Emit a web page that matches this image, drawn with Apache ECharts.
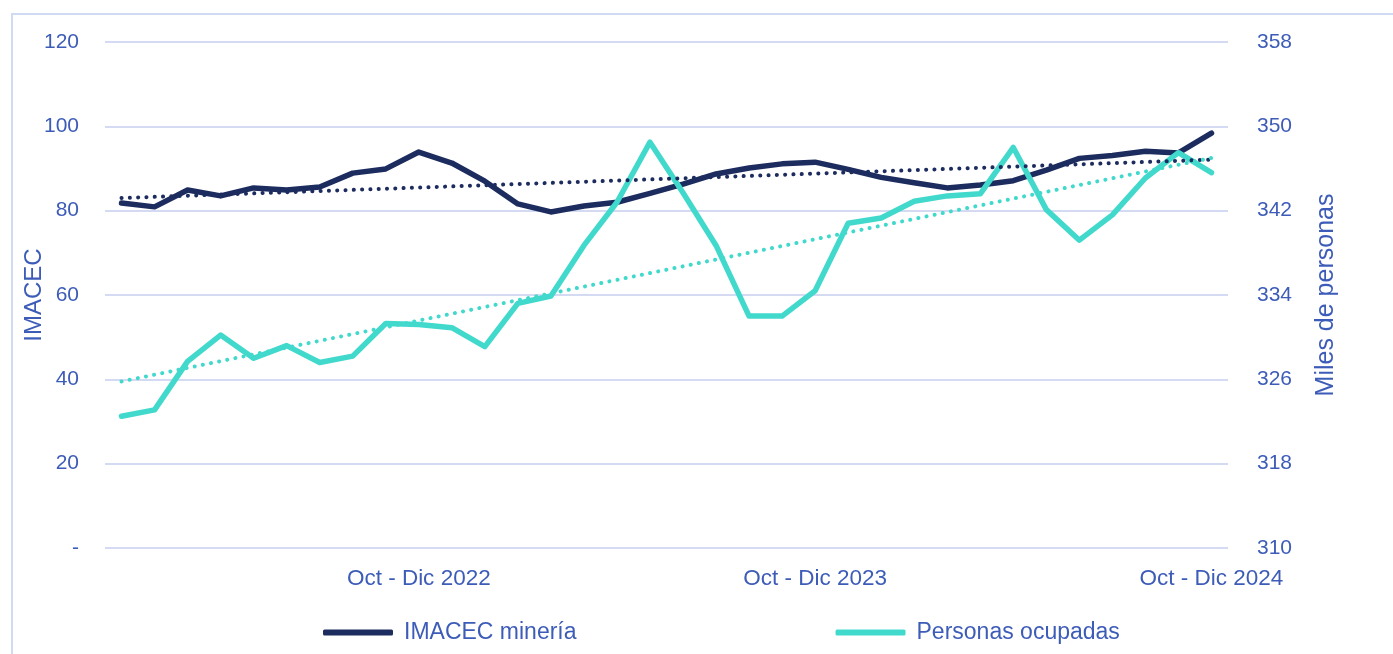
<!DOCTYPE html>
<html>
<head>
<meta charset="utf-8">
<script src="https://cdn.jsdelivr.net/npm/echarts@6/dist/echarts.min.js"></script>
<style>
  html, body { margin: 0; padding: 0; background: #fff; }
  #main { width: 1393px; height: 654px; }
</style>
</head>
<body>
<div id="main"></div>
<script>
// trimestres móviles
var categorias = [
  'Ene - Mar 2022', 'Feb - Abr 2022', 'Mar - May 2022', 'Abr - Jun 2022', 'May - Jul 2022', 'Jun - Ago 2022',
  'Jul - Sep 2022', 'Ago - Oct 2022', 'Sep - Nov 2022', 'Oct - Dic 2022', 'Nov - Ene 2023', 'Dic - Feb 2023',
  'Ene - Mar 2023', 'Feb - Abr 2023', 'Mar - May 2023', 'Abr - Jun 2023', 'May - Jul 2023', 'Jun - Ago 2023',
  'Jul - Sep 2023', 'Ago - Oct 2023', 'Sep - Nov 2023', 'Oct - Dic 2023', 'Nov - Ene 2024', 'Dic - Feb 2024',
  'Ene - Mar 2024', 'Feb - Abr 2024', 'Mar - May 2024', 'Abr - Jun 2024', 'May - Jul 2024', 'Jun - Ago 2024',
  'Jul - Sep 2024', 'Ago - Oct 2024', 'Sep - Nov 2024', 'Oct - Dic 2024'
];
// etiquetas visibles en el eje x
var etiquetasX = ['Oct - Dic 2022', 'Oct - Dic 2023', 'Oct - Dic 2024'];

var imacec = [
  81.8, 80.9, 84.9, 83.5, 85.4, 84.9, 85.6, 88.9, 89.9, 93.9, 91.3, 87.0,
  81.6, 79.7, 81.1, 82.0, 84.1, 86.3, 88.7, 90.1, 91.1, 91.5, 89.8, 87.9,
  86.6, 85.4, 86.1, 87.1, 89.6, 92.4, 93.1, 94.1, 93.7, 98.4
];
var personas = [
  322.5, 323.1, 327.7, 330.2, 328.0, 329.2, 327.6, 328.2, 331.3, 331.2, 330.9, 329.1,
  333.2, 333.9, 338.7, 342.8, 348.5, 343.7, 338.7, 332.0, 332.0, 334.4, 340.8, 341.3,
  342.9, 343.4, 343.6, 348.0, 342.1, 339.2, 341.6, 345.1, 347.5, 345.6
];
// tendencias lineales (inicio, fin)
var tendImacec = [83.0, 92.1];
var tendPersonas = [325.8, 347.0];

var textColor = '#3d5cb8';
var gridColor = '#d3daf2';

function lineaTendencia(ext) {
  return categorias.map(function (c, i) {
    if (i === 0) return ext[0];
    if (i === categorias.length - 1) return ext[1];
    return null;
  });
}

var myChart = echarts.init(document.getElementById('main'));
myChart.setOption({
  backgroundColor: '#fff',
  animation: false,
  textStyle: { fontFamily: 'Liberation Sans, Arial, sans-serif' },
  graphic: [{
    type: 'rect',
    shape: { x: 12, y: 14, width: 1420, height: 700 },
    style: { fill: 'none', stroke: '#d0daf2', lineWidth: 2 },
    silent: true,
    z: -1
  }],
  grid: { left: 105, right: 165, top: 42, bottom: 106 },
  legend: {
    data: ['IMACEC minería', 'Personas ocupadas'],
    left: 318,
    top: 616,
    icon: 'roundRect',
    itemWidth: 70,
    itemHeight: 6,
    itemGap: 259,
    textStyle: { color: textColor, fontSize: 23, padding: [0, 0, 0, 6] }
  },
  xAxis: {
    type: 'category',
    data: categorias,
    axisLine: { show: false },
    axisTick: { show: false },
    axisLabel: {
      color: textColor,
      fontSize: 22.5,
      margin: 19,
      interval: function (idx, val) { return etiquetasX.indexOf(val) >= 0; }
    }
  },
  yAxis: [{
    type: 'value',
    min: 0, max: 120, interval: 20,
    name: 'IMACEC',
    nameLocation: 'middle',
    nameGap: 59,
    nameMoveOverlap: false,
    nameTextStyle: { color: textColor, fontSize: 24 },
    axisLine: { show: false },
    axisTick: { show: false },
    axisLabel: {
      color: textColor, fontSize: 21, margin: 26,
      formatter: function (v) { return v === 0 ? '-' : v; }
    },
    splitLine: { lineStyle: { color: gridColor, width: 2 } }
  }, {
    type: 'value',
    min: 310, max: 358, interval: 8,
    name: 'Miles de personas',
    nameLocation: 'middle',
    nameGap: 86,
    nameTextStyle: { color: textColor, fontSize: 25 },
    axisLine: { show: false },
    axisTick: { show: false },
    axisLabel: { color: textColor, fontSize: 21, margin: 29 },
    splitLine: { show: false }
  }],
  series: [{
    name: 'IMACEC minería',
    type: 'line',
    data: imacec,
    yAxisIndex: 0,
    symbol: 'none',
    lineStyle: { color: '#1d2c5e', width: 5.5, cap: 'round', join: 'round' },
    itemStyle: { color: '#1d2c5e' },
    z: 3
  }, {
    name: 'Personas ocupadas',
    type: 'line',
    data: personas,
    yAxisIndex: 1,
    symbol: 'none',
    lineStyle: { color: '#42d9cd', width: 5.5, cap: 'round', join: 'round' },
    itemStyle: { color: '#42d9cd' },
    z: 4
  }, {
    name: 'Tendencia IMACEC',
    type: 'line',
    data: lineaTendencia(tendImacec),
    yAxisIndex: 0,
    connectNulls: true,
    symbol: 'none',
    lineStyle: { color: '#1d2c5e', width: 4, type: [0.1, 8.2], cap: 'round' },
    z: 5
  }, {
    name: 'Tendencia personas',
    type: 'line',
    data: lineaTendencia(tendPersonas),
    yAxisIndex: 1,
    connectNulls: true,
    symbol: 'none',
    lineStyle: { color: '#42d9cd', width: 4, type: [0.1, 8.2], cap: 'round' },
    z: 5
  }]
});
</script>
</body>
</html>
